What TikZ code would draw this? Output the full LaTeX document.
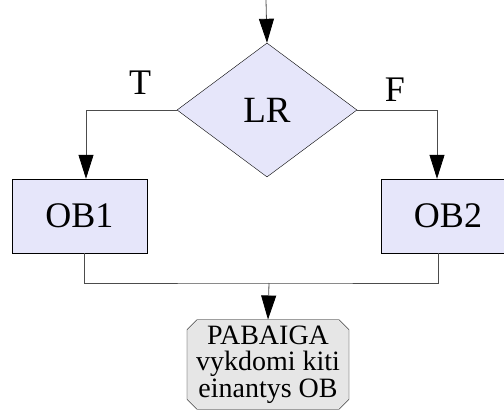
\documentclass[tikz,border=0pt]{standalone}
\usepackage{fontspec}
\setmainfont{Liberation Serif}
\usetikzlibrary{shapes,arrows.meta,positioning,calc}
\definecolor{boxfill}{HTML}{E6E6FA}
\definecolor{endfill}{HTML}{E6E6E6}

\begin{document}
\begin{tikzpicture}[
  x=1pt, y=-1pt,
  box/.style={rectangle, draw, fill=boxfill, minimum height=74pt, align=center, font=\fontsize{36}{36}\selectfont},
  cond/.style={diamond, draw, fill=boxfill, inner sep=0pt, minimum width=180pt, minimum height=134pt, font=\fontsize{37}{37}\selectfont},
  endbox/.style={chamfered rectangle, chamfered rectangle xsep=5pt, chamfered rectangle ysep=5pt, draw, fill=endfill, minimum width=162pt, minimum height=89pt, inner sep=1pt, align=center, font=\fontsize{28}{26.5}\selectfont},
  line/.style={black!70, line width=0.8pt},
  arrow/.style={line, -{Triangle[length=24pt, width=15pt, fill=black, color=black]}},
  lbl/.style={font=\fontsize{36}{36}\selectfont}
]
  \useasboundingbox (0,0) rectangle (504,410);

  \coordinate (start) at (266,0);
  \node[cond] (lr) at (267,110) {LR};
  \node[box, minimum width=135pt] (ob1) at (79.5,216) {OB1};
  \node[box, minimum width=134pt] (ob2) at (448,216) {OB2};
  \coordinate (join) at (269,283);
  \node[endbox] (end) at (268,364.5) {PABAIGA\\vykdomi kiti\\einantys OB};

  \node[lbl] (t) at (140,83) {T};
  \node[lbl] (f) at (395,90) {F};

  \draw[arrow] (start) -- (lr.north);
  \draw[arrow] (lr.west) -| ([xshift=6.5pt]ob1.north);
  \draw[arrow] (lr.east) -| ([xshift=-11pt]ob2.north);
  \draw[line] ([xshift=4.5pt]ob1.south) |- (join) -| ([xshift=-10pt]ob2.south);
  \draw[arrow] (join) -- (end.north);
\end{tikzpicture}
\end{document}
